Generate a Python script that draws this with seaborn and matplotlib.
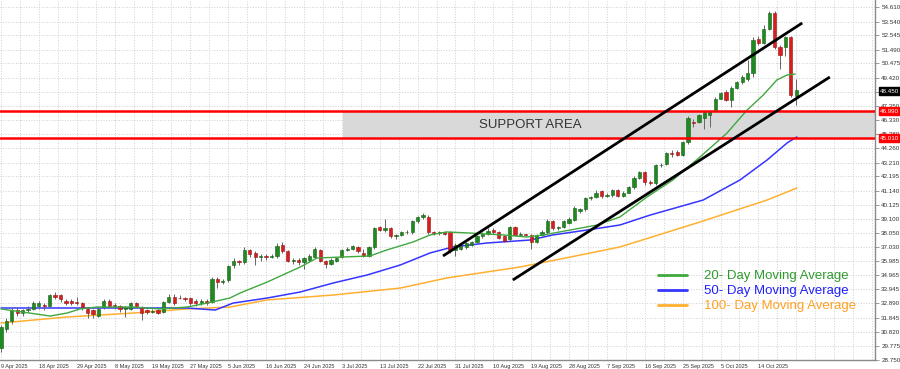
"""
Candlestick chart with moving averages, trend channel and support area
"""

import matplotlib
matplotlib.use("Agg")
import numpy as np
import pandas as pd
import matplotlib.pyplot as plt
import matplotlib.transforms as mtransforms
from matplotlib.lines import Line2D
import seaborn as sns

# Daily candles
opens = [29.6, 31.0, 31.6, 32.4, 32.2, 32.4, 32.5, 32.7, 32.8, 32.7,
         33.5, 33.5, 33.1, 33.1, 33.0, 32.9, 32.5, 32.4, 32.0, 32.6,
         33.1, 32.75, 32.7, 32.5, 32.5, 32.9, 32.6, 32.4, 32.3, 32.4,
         32.3, 33.0, 33.4, 33.3, 33.3, 33.3, 33.1, 32.9, 33.1, 33.0,
         34.7, 34.5, 34.6, 35.7, 36.0, 35.9, 36.8, 36.6, 36.3, 36.35,
         36.3, 36.35, 37.2, 36.7, 36.0, 36.1, 35.95, 36.1, 36.3, 36.8,
         36.0, 35.8, 36.0, 36.3, 36.8, 36.9, 37.0, 36.6, 36.4, 37.0,
         38.5, 38.3, 38.4, 37.8, 37.9, 38.1, 38.1, 38.9, 39.2, 39.2,
         38.1, 38.05, 38.1, 38.1, 36.8, 36.9, 37.0, 37.2, 37.4, 37.8,
         38.0, 38.3, 38.1, 37.8, 37.6, 38.5, 37.9, 37.95, 37.9, 37.4,
         37.9, 38.1, 38.9, 38.4, 38.5, 38.8, 39.0, 39.7, 39.8, 40.6,
         40.7, 41.1, 40.8, 40.85, 41.2, 40.8, 41.0, 41.4, 42.05, 42.5,
         41.8, 41.75, 43.0, 43.1, 43.9, 44.0, 43.8, 44.7, 46.2, 46.2,
         46.5, 46.7, 47.0, 47.9, 48.4, 47.8, 48.7, 49.1, 49.3, 49.8,
         52.3, 52.0, 53.0, 54.2, 51.7, 51.7, 52.4, 48.1]
highs = [31.3, 31.8, 32.6, 32.6, 32.5, 32.7, 33.1, 33.1, 32.9, 33.6,
         33.7, 33.6, 33.2, 33.2, 33.4, 33.0, 32.6, 32.5, 32.6, 33.2,
         33.2, 32.9, 32.8, 32.7, 33.0, 33.0, 32.7, 32.5, 32.5, 32.5,
         33.1, 33.6, 33.6, 33.5, 33.4, 33.4, 33.2, 33.2, 33.2, 34.8,
         34.8, 34.7, 35.7, 36.2, 36.1, 37.0, 36.9, 36.7, 36.5, 36.5,
         36.5, 37.3, 37.4, 36.8, 36.2, 36.2, 36.3, 36.5, 37.0, 36.9,
         36.1, 36.2, 36.3, 36.9, 37.0, 37.2, 37.1, 36.9, 37.1, 38.5,
         38.6, 39.1, 38.5, 38.0, 38.2, 38.3, 39.0, 39.3, 39.5, 39.4,
         38.2, 38.2, 38.2, 38.2, 37.3, 37.2, 37.4, 37.5, 37.9, 38.1,
         38.4, 38.4, 38.2, 37.9, 38.6, 38.6, 38.1, 38.0, 38.0, 38.0,
         38.3, 39.1, 39.0, 38.6, 39.0, 39.2, 40.0, 39.9, 40.7, 40.8,
         41.2, 41.2, 41.0, 41.3, 41.3, 41.1, 41.5, 42.2, 42.6, 42.6,
         41.9, 43.1, 43.2, 44.0, 44.1, 44.1, 44.8, 46.6, 46.4, 46.8,
         47.0, 47.1, 48.0, 48.4, 48.5, 48.8, 49.2, 49.6, 50.7, 52.4,
         52.5, 53.3, 54.3, 54.3, 51.8, 52.5, 52.5, 49.3]
lows = [29.3, 30.8, 31.4, 32.0, 32.0, 32.3, 32.4, 32.5, 32.4, 32.6,
        33.2, 33.0, 32.8, 32.8, 32.8, 32.4, 31.8, 31.8, 31.9, 32.5,
        32.6, 32.5, 32.3, 31.9, 32.4, 32.6, 31.7, 32.1, 32.2, 32.1,
        32.2, 32.9, 32.8, 33.2, 33.1, 32.8, 32.7, 32.8, 32.8, 32.9,
        34.0, 34.3, 34.5, 35.5, 35.7, 35.8, 36.3, 35.7, 36.0, 36.1,
        36.2, 36.2, 36.6, 35.9, 35.8, 35.7, 35.4, 35.9, 36.2, 35.9,
        35.5, 35.7, 35.9, 36.2, 36.7, 36.8, 36.6, 36.3, 36.3, 36.9,
        38.2, 38.1, 37.7, 37.6, 37.8, 38.0, 38.0, 38.8, 39.1, 38.0,
        37.9, 37.9, 37.9, 36.6, 36.4, 36.8, 36.9, 37.1, 37.3, 37.7,
        37.9, 38.0, 37.6, 37.4, 37.5, 37.8, 37.8, 37.8, 36.9, 37.3,
        37.8, 38.0, 38.3, 38.3, 38.4, 38.7, 38.9, 39.5, 39.7, 40.5,
        40.6, 40.6, 40.7, 40.7, 40.7, 40.7, 41.0, 41.3, 42.0, 41.6,
        41.6, 41.6, 42.9, 43.0, 43.6, 43.7, 43.7, 44.6, 45.8, 46.1,
        45.7, 45.8, 46.9, 47.9, 47.7, 47.3, 48.6, 49.0, 49.2, 49.5,
        51.8, 51.9, 52.9, 51.5, 50.1, 51.0, 48.0, 47.4]
closes = [31.2, 31.6, 32.4, 32.2, 32.4, 32.5, 32.9, 32.9, 32.7, 33.5,
          33.4, 33.2, 32.9, 32.9, 32.9, 32.6, 32.2, 32.1, 32.5, 33.1,
          32.7, 32.68, 32.5, 32.6, 32.9, 32.7, 32.2, 32.3, 32.35, 32.2,
          33.0, 33.4, 32.9, 33.28, 33.25, 32.9, 32.9, 33.1, 32.9, 34.7,
          34.5, 34.55, 35.6, 36.0, 35.9, 36.8, 36.5, 36.3, 36.35, 36.3,
          36.35, 37.1, 36.7, 36.0, 36.05, 35.9, 36.2, 36.4, 36.9, 36.0,
          35.8, 36.1, 36.2, 36.8, 36.9, 37.1, 36.7, 36.4, 37.0, 38.4,
          38.3, 38.4, 37.8, 37.9, 38.1, 38.15, 38.9, 39.2, 39.4, 38.1,
          38.05, 38.1, 38.0, 36.8, 37.2, 37.1, 37.3, 37.4, 37.8, 38.0,
          38.2, 38.1, 37.7, 37.5, 38.5, 37.9, 37.95, 37.9, 37.4, 37.9,
          38.1, 38.9, 38.4, 38.5, 38.9, 39.1, 39.9, 39.8, 40.6, 40.7,
          41.0, 40.8, 40.85, 41.2, 40.8, 41.0, 41.4, 42.1, 42.5, 41.8,
          41.75, 43.0, 43.05, 43.9, 43.85, 43.8, 44.7, 46.5, 46.1, 46.7,
          46.9, 47.0, 47.9, 48.3, 47.8, 48.7, 49.1, 49.5, 49.8, 52.2,
          52.0, 53.0, 54.2, 51.7, 51.1, 52.4, 48.2, 48.5]

date_labels = ["9 Apr 2025", "18 Apr 2025", "29 Apr 2025", "8 May 2025",
               "19 May 2025", "27 May 2025", "5 Jun 2025", "16 Jun 2025",
               "24 Jun 2025", "3 Jul 2025", "13 Jul 2025", "22 Jul 2025",
               "31 Jul 2025", "10 Aug 2025", "19 Aug 2025", "28 Aug 2025",
               "7 Sep 2025", "16 Sep 2025", "25 Sep 2025", "5 Oct 2025",
               "14 Oct 2025"]

price_ticks = [28.750, 29.775, 30.820, 31.845, 32.890, 33.945, 34.965,
               35.985, 37.030, 38.050, 39.100, 40.125, 41.140, 42.195,
               43.210, 44.260, 45.280, 46.330, 47.350, 48.390, 49.420,
               50.475, 51.490, 52.545, 53.540, 54.610]

# Moving averages (bar position, price)
ma20_x = [0, 3.5, 9.1, 12.2, 14.6, 17.7, 24.4, 29.4, 34.4, 38.1, 42.3, 44.2,
          49.2, 55.3, 58.4, 62.7, 68.2, 71.3, 76.2, 79.3, 82.4, 86.7, 92.8,
          97.2, 100.2, 105.2, 110.2, 114.4, 119.4, 124.2, 129.2, 134.2,
          137.9, 140.9, 143.4, 145.3, 146.8]
ma20_y = [32.49, 32.29, 31.97, 32.19, 32.49, 32.63, 32.63, 32.49, 32.63,
          32.92, 33.29, 33.66, 34.46, 35.56, 36.22, 36.29, 36.37, 36.81,
          37.40, 37.91, 38.13, 38.05, 37.91, 37.76, 37.91, 38.27, 38.64,
          39.23, 40.69, 41.94, 43.62, 45.38, 47.06, 48.16, 49.26, 49.63,
          49.70]
ma50_x = [0, 34.4, 36.8, 39.6, 42.9, 49.2, 55.3, 61.4, 67.7, 73.8, 79.3,
          83.5, 89.8, 97.8, 102.0, 108.3, 114.4, 120.0, 129.8, 136.6,
          141.6, 145.3, 147.1]
ma50_y = [32.56, 32.56, 32.49, 32.41, 32.92, 33.29, 33.73, 34.39, 34.98,
          35.71, 36.59, 37.03, 37.32, 37.54, 37.91, 38.27, 38.64, 39.37,
          40.47, 41.94, 43.40, 44.65, 45.09]
ma100_x = [0, 12.2, 24.4, 34.4, 42.3, 49.2, 61.4, 73.8, 82.4, 95.9, 105.2,
           114.4, 129.2, 141.6, 147.1]
ma100_y = [31.46, 31.90, 32.19, 32.49, 32.63, 33.15, 33.51, 34.02, 34.76,
           35.56, 36.29, 37.03, 38.86, 40.47, 41.35]

# Channel lines and support zone
upper_x = [81.7, 148.1]
upper_y = [36.37, 53.44]
lower_x = [94.6, 153.2]
lower_y = [34.61, 49.48]
support_top = 46.99
support_bottom = 45.01
support_start = 63.2

GREEN = "#1f8a1f"
RED = "#d42020"
FONT = ["Liberation Sans", "DejaVu Sans"]


def main():
    sns.set_style("white")
    plt.rcParams["font.family"] = FONT

    df = pd.DataFrame({"open": opens, "high": highs, "low": lows, "close": closes})
    df["idx"] = np.arange(len(df))
    up = df["close"] >= df["open"]

    fig = plt.figure(figsize=(9, 3.69), dpi=100)
    ax = fig.add_axes([0, 9 / 369, 875 / 900, 360 / 369])
    x_lo, x_hi = -0.185, 161.55
    y_lo, y_hi = 28.75, 55.123
    ax.set_xlim(x_lo, x_hi)
    ax.set_ylim(y_lo, y_hi)

    # dotted grid
    ax.hlines(price_ticks, x_lo, x_hi, colors="#cfcfcf", linestyles=":", lw=0.7, zorder=0)
    ax.vlines(np.arange(0, x_hi, 3.5), y_lo, y_hi, colors="#cfcfcf",
              linestyles=":", lw=0.7, zorder=0)

    # support area
    ax.fill_between([support_start, x_hi], support_bottom, support_top,
                    color="#d9d9d9", zorder=1, lw=0)
    ax.text((support_start + x_hi) / 2 - 14.5, (support_top + support_bottom) / 2,
            "SUPPORT AREA", ha="center", va="center", fontsize=9.5,
            color="#333333", zorder=2)

    # moving averages
    sns.lineplot(x=ma100_x, y=ma100_y, ax=ax, color="#ffb030", lw=1.1, zorder=2)
    sns.lineplot(x=ma50_x, y=ma50_y, ax=ax, color="#3535ff", lw=1.1, zorder=2)
    sns.lineplot(x=ma20_x, y=ma20_y, ax=ax, color="#3fa83f", lw=1.0, zorder=5)

    # candles
    ax.vlines(df["idx"], df["low"], df["high"], color="#666666", lw=0.7, zorder=3)
    for mask, col, edge in [(up, GREEN, "#145c14"), (~up, RED, "#9a1010")]:
        sub = df[mask]
        ax.bar(sub["idx"], (sub["close"] - sub["open"]).abs().clip(lower=0.04),
               bottom=sub[["open", "close"]].min(axis=1), width=0.6,
               color=col, edgecolor=edge, lw=0.4, zorder=4)

    # support lines and channel
    for lvl in (support_top, support_bottom):
        ax.axhline(lvl, color="#ff0000", lw=1.8, zorder=6)
    ax.plot(upper_x, upper_y, color="black", lw=2, zorder=7, solid_capstyle="butt")
    ax.plot(lower_x, lower_y, color="black", lw=2, zorder=7, solid_capstyle="butt")

    # axes styling
    for side in ("top", "left"):
        ax.spines[side].set_visible(False)
    for side in ("bottom", "right"):
        ax.spines[side].set_color("#8a8a8a")
        ax.spines[side].set_linewidth(1)
    ax.yaxis.tick_right()
    ax.set_yticks(price_ticks)
    ax.set_yticklabels([f"{v:.3f}" for v in price_ticks])
    ax.set_xticks(np.arange(0, 7 * len(date_labels), 7))
    ax.set_xticklabels(date_labels)
    ax.tick_params(axis="y", labelsize=4.5, length=3, width=0.6, color="#8a8a8a",
                   pad=1.5, labelcolor="#333333")
    ax.tick_params(axis="x", labelsize=4.0, length=2.5, width=0.6, color="#8a8a8a",
                   pad=0.3, labelcolor="#333333")
    for lab in ax.get_xticklabels():
        lab.set_ha("left")

    # price tags on the axis (they cover the tick label underneath, as on the chart)
    trans = mtransforms.blended_transform_factory(ax.transAxes, ax.transData)
    tags = [(closes[-1] - 0.05, "black"), (support_top, "#ff0000"), (support_bottom, "#ff0000")]
    for price, col in tags:
        ax.text(1.006, price, f"{price:.3f}", transform=trans, ha="left", va="center",
                fontsize=4.5, color="white", clip_on=False, zorder=10,
                bbox=dict(boxstyle="square,pad=0.2", fc=col, ec=col))

    # legend
    handles = [Line2D([], [], color="#3fa83f", lw=2),
               Line2D([], [], color="#3535ff", lw=2),
               Line2D([], [], color="#ffb030", lw=2)]
    labels = ["20- Day Moving Average", "50- Day Moving Average", "100- Day Moving Average"]
    leg = ax.legend(handles, labels, loc="lower right", bbox_to_anchor=(0.979, 0.133),
                    frameon=False, fontsize=9.5, handlelength=2.2, handletextpad=1.35,
                    labelspacing=0.2, borderpad=0, borderaxespad=0)
    for txt, col in zip(leg.get_texts(), ["#2e9a2e", "#2020ff", "#ffa020"]):
        txt.set_color(col)

    ax.set_xlabel("")
    ax.set_ylabel("")
    fig.savefig("out.png", dpi=100)


if __name__ == "__main__":
    main()
